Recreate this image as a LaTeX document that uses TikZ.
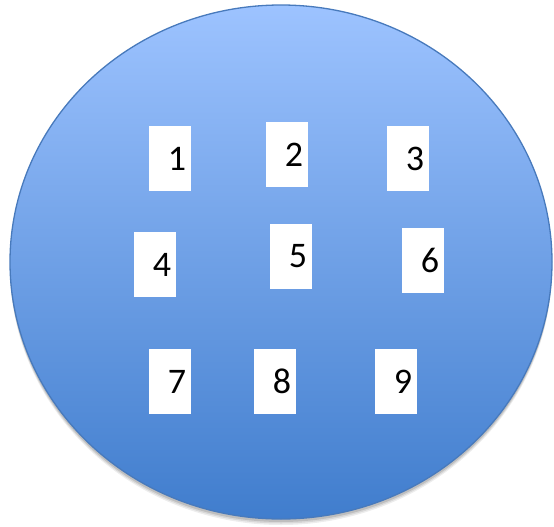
\documentclass[tikz,border=0pt]{standalone}
\usepackage{fontspec}
\setmainfont{Carlito}
\definecolor{ovaltop}{RGB}{157,195,255}
\definecolor{ovalbot}{RGB}{64,125,205}
\definecolor{ovaledge}{RGB}{72,122,188}

\begin{document}
\begin{tikzpicture}[x=1pt,y=-1pt,
  numbox/.style={fill=white,inner sep=0pt,minimum width=42pt,minimum height=65pt,
    font=\fontsize{36}{36}\selectfont,execute at begin node=\hspace*{14pt}}]

\useasboundingbox (0,0) rectangle (554,527);

% ---- the oval, with a soft shadow underneath ----
\foreach \d/\o in {6/0.07,4.5/0.09,3/0.12}{
  \fill[black,opacity=\o] (281,262+\d) ellipse (271 and 257);}
\shade[top color=ovaltop,bottom color=ovalbot] (281,262) ellipse (271 and 257);
\draw[ovaledge,line width=1.3pt] (281,262) ellipse (271 and 257);

% ---- the nine white cards ----
\foreach \n/\x/\y in {1/170/158.5,2/287/154.5,3/408/158.5,
                      4/155/264.5,5/291/256.5,6/423/260.5,
                      7/170/381.5,8/275/381.5,9/396/381.5}{
  \node[numbox] (b\n) at (\x,\y) {\n};}

\end{tikzpicture}
\end{document}
